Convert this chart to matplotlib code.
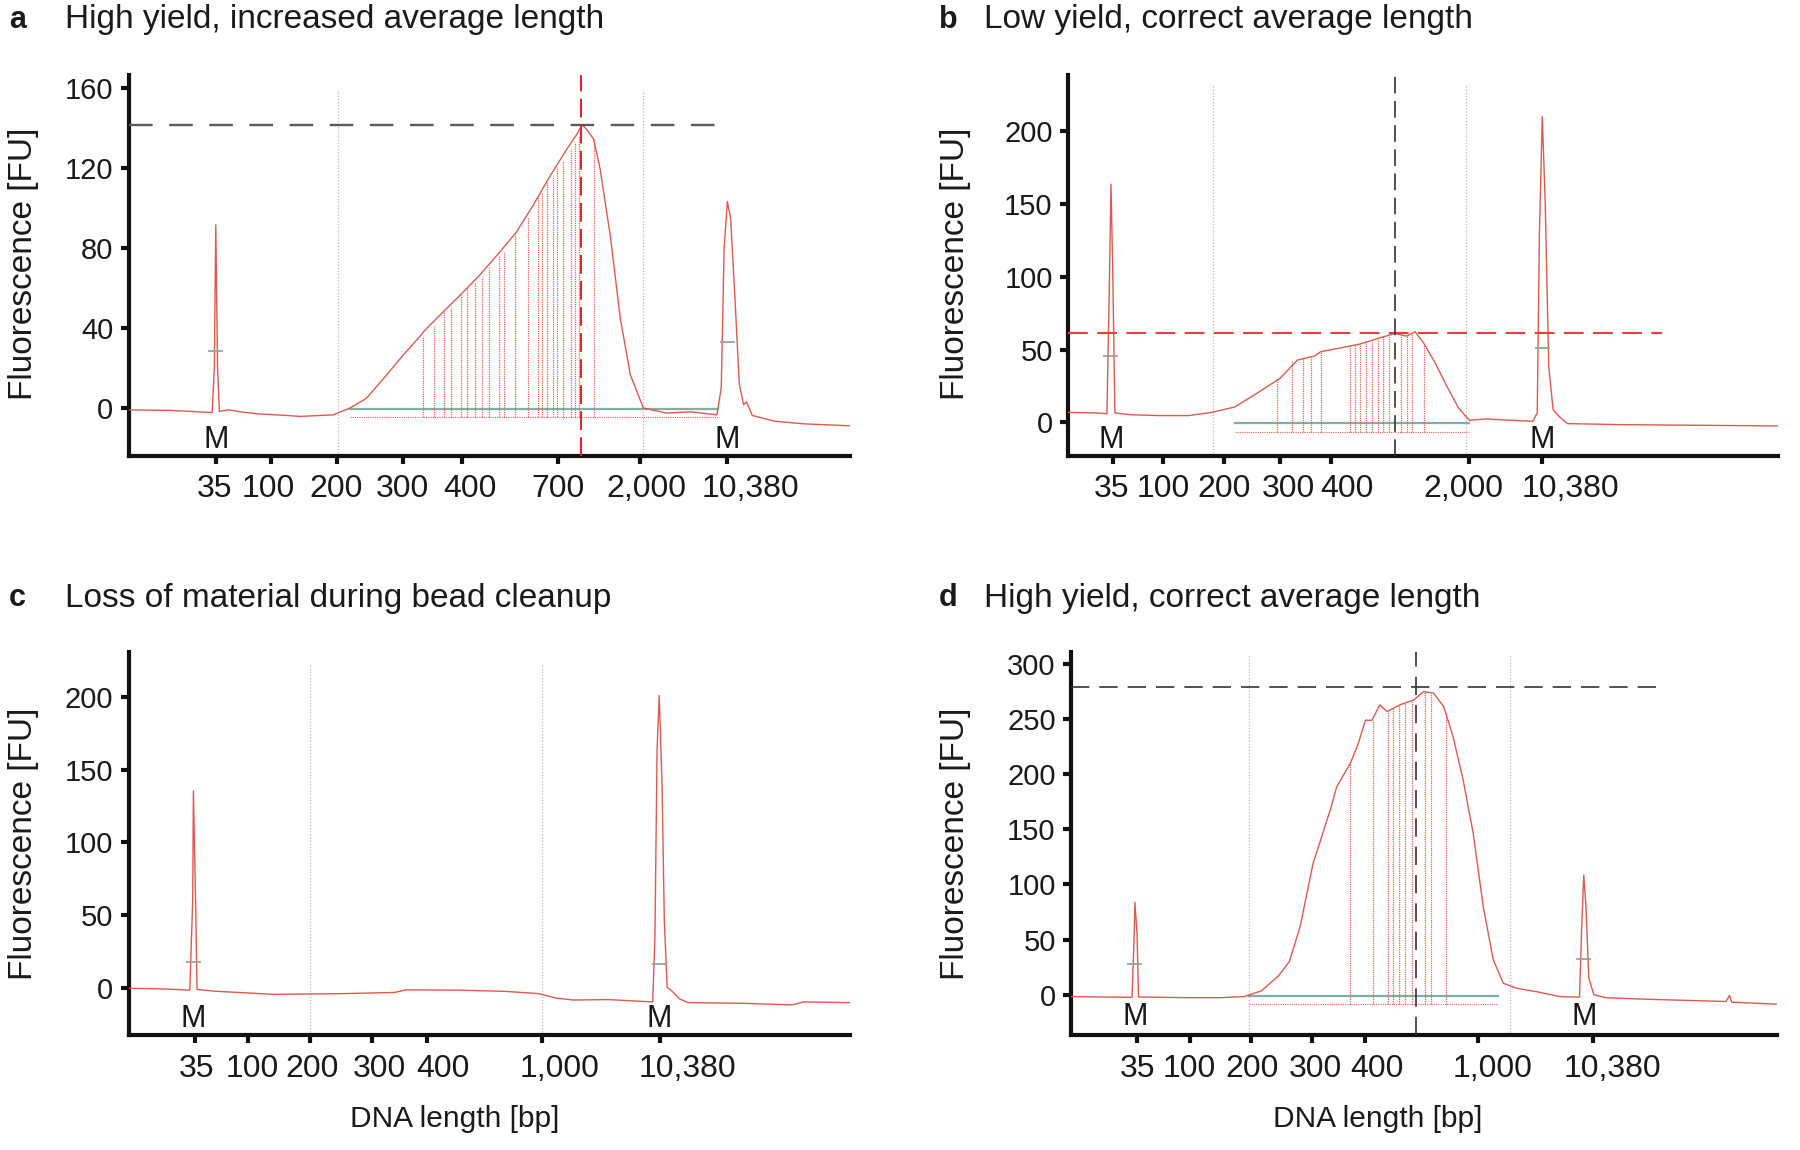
import matplotlib
matplotlib.use("Agg")
import matplotlib.pyplot as plt
import matplotlib.transforms as mtransforms

REG = 'Liberation Sans'

# ---------------- data (migration time units on x, fluorescence FU on y) -------------
# Panel a
a_title = "High yield, increased average length"
a_tick_time = [12.1, 19.7, 28.9, 38.1, 46.2, 59.5, 70.9, 83.0]
a_tick_bp = ["35", "100", "200", "300", "400", "700", "2,000", "10,380"]
a_yticks = [0, 40, 80, 120, 160]
a_ylim = (-24, 167)
a_time = [0, 6.0, 10.8, 11.6, 11.9, 12.1, 12.35, 12.6, 13.9, 15.5, 17.9, 21.9, 23.8, 28.4,
          30.7, 33.0, 35.8, 38.1, 40.4, 41.0, 43.2, 46.0, 48.7, 51.5, 53.8, 56.1, 58.5,
          60.8, 62.2, 62.9, 63.5, 64.5, 65.4, 66.8, 68.2, 69.6, 71.4, 74.6, 78.0, 81.6,
          82.2, 82.6, 83.05, 83.5, 84.1, 84.7, 85.3, 85.7, 86.5, 89.6, 93.6, 100]
a_fu = [-1.0, -1.3, -2.2, -2.3, 20, 91.7, 20, -1.8, -1.0, -2.0, -3.0, -3.8, -4.3, -3.5,
        -0.1, 4.8, 16.5, 26.5, 35.7, 38.5, 46.5, 56.5, 66.5, 78.1, 88.1, 101.4, 116.4,
        129.7, 137.2, 141.7, 139.7, 134.7, 119.7, 86.5, 44.8, 16.5, -0.1, -2.6, -2.0, -3.5,
        10, 80, 103.4, 95, 55, 12, 1.5, 3.0, -3.8, -6.7, -8.0, -9.0]
a_peak_time = [40.8, 42.3, 43.8, 44.7, 46.1, 47.0, 48.1, 49.0, 50.0, 51.4, 52.1, 53.6,
               55.4, 56.8, 57.3, 58.0, 58.8, 59.4, 60.3, 61.3, 61.9, 62.5, 64.5]
a_peak_fu = [35.7, 41.2, 47.8, 51.1, 56.5, 60.6, 62.3, 65.6, 70.6, 76.5, 78.1, 87.3,
             95.6, 105.6, 108.1, 113.1, 115.6, 120.6, 123.9, 129.7, 133.1, 136.4, 134.7]
a_ladder_time = [12.1, 83.05]
a_ladder_mark = [28.7, 32.8]

# Panel b
b_title = "Low yield, correct average length"
b_tick_time = [6.2, 13.2, 21.6, 29.4, 36.4, 55.5, 65.7]
b_tick_bp = ["35", "100", "200", "300", "400", "2,000", "10,380"]
b_yticks = [0, 50, 100, 150, 200]
b_ylim = (-23, 239)
b_time = [0, 4.0, 5.4, 5.7, 5.96, 6.2, 6.5, 8.7, 12.7, 16.7, 19.9, 23.1, 26.2, 29.4,
          31.8, 34.2, 35.0, 37.4, 40.5, 42.9, 45.3, 46.9, 48.1, 49.3, 50.9, 52.5, 54.1,
          55.6, 58.0, 61.2, 64.4, 65.0, 65.3, 65.7, 66.1, 66.6, 67.2, 68.0, 69.2, 76.3,
          88.2, 98.3]
b_fu = [6.8, 6.4, 5.9, 84, 163.6, 106.6, 6.4, 5.2, 4.6, 4.6, 6.8, 10.5, 20.0, 30.3,
        42.8, 45.6, 48.5, 50.8, 53.8, 57.6, 61.0, 59.2, 62.2, 54.2, 40.5, 24.6, 9.8,
        1.4, 2.3, 1.4, 0.7, 6.4, 129, 210, 152, 38, 8.7, 4.1, -0.9, -1.6, -2.1, -2.5]
b_peak_time = [29.0, 31.0, 32.6, 33.6, 35.0, 39.1, 39.7, 40.5, 41.3, 42.1, 42.9, 43.7,
               44.5, 46.1, 46.9, 47.7, 49.3]
b_peak_fu = [30, 42, 44, 45, 48, 53, 53, 54, 55, 56, 57, 59, 60, 60, 60, 61, 53]
b_ladder_time = [5.96, 65.7]
b_ladder_mark = [45.6, 51.3]

# Panel c
c_title = "Loss of material during bead cleanup"
c_tick_time = [9.2, 16.6, 25.2, 33.8, 41.4, 57.4, 73.7]
c_tick_bp = ["35", "100", "200", "300", "400", "1,000", "10,380"]
c_yticks = [0, 50, 100, 150, 200]
c_ylim = (-33, 231)
c_time = [0, 5.0, 8.5, 8.9, 9.0, 9.3, 9.5, 12.1, 15.3, 20.1, 29.7, 36.9, 38.5, 45.7,
          52.1, 56.9, 59.3, 61.7, 66.5, 69.6, 72.7, 73.0, 73.3, 73.6, 74.0, 74.3, 74.7,
          75.4, 76.4, 77.6, 85.6, 92.0, 93.6, 100]
c_fu = [-0.5, -1.0, -1.8, 60, 135.4, 60, -1.3, -2.6, -3.4, -4.7, -4.2, -3.4, -1.6, -1.8,
        -2.6, -4.2, -7.3, -8.6, -8.3, -9.1, -9.9, 33.9, 164, 201, 138, 47, 0, -2.6,
        -7.8, -10.4, -10.9, -12.0, -9.9, -10.4]
c_peak_time = []
c_peak_fu = []
c_ladder_time = [9.0, 73.6]
c_ladder_mark = [17.7, 16.1]

# Panel d
d_title = "High yield, correct average length"
d_tick_time = [9.2, 16.5, 25.1, 33.6, 40.9, 56.6, 72.7]
d_tick_bp = ["35", "100", "200", "300", "400", "1,000", "10,380"]
d_yticks = [0, 50, 100, 150, 200, 250, 300]
d_ylim = (-37, 311)
d_time = [0, 4.2, 8.5, 8.8, 8.9, 9.2, 9.4, 16.1, 20.9, 24.1, 26.5, 28.9, 30.4, 31.9,
          33.7, 36.1, 37.0, 38.9, 40.0, 41.0, 41.9, 43.0, 44.0, 45.8, 47.7, 49.1, 50.5,
          51.9, 53.2, 54.6, 56.0, 57.4, 58.8, 60.2, 62.1, 65.0, 68.1, 70.8, 71.1, 71.4,
          71.7, 72.1, 72.8, 74.4, 80.0, 91.2, 91.7, 92.0, 98.3]
d_fu = [-1.7, -2.1, -2.4, 54.7, 83.8, 54.7, -2.1, -2.7, -2.7, -1.7, 3.4, 17.1, 30.0,
        61.7, 119.0, 167.6, 188.7, 210.0, 228.0, 249.0, 249.0, 263.0, 256.8, 263.0,
        267.4, 275.0, 273.5, 261.3, 234.0, 194.8, 146.5, 79.9, 31.5, 10.3, 5.8, 2.5,
        -1.8, -2.2, 60, 108.6, 80, 15, 0, -2.7, -4.1, -6.2, -0.7, -6.8, -8.6]
d_peak_time = [38.9, 42.0, 44.1, 44.8, 45.7, 46.5, 47.5, 49.3, 50.1, 52.2]
d_peak_fu = [211, 249, 256.8, 260, 263, 264.5, 267.4, 275, 273.5, 256.8]
d_ladder_time = [8.9, 71.4]
d_ladder_mark = [27.4, 32.5]

# ---------------- styling ----------------
TRACE = '#dc5a50'
MARK = '#e2645c'
REGION = '#b4b4d6'
TEAL = '#7fb0a5'
INK = '#1a1a1a'

fig = plt.figure(figsize=(18, 11.5), dpi=100)

panels = [
    dict(title=a_title, t=a_time, y=a_fu, ticks=a_tick_time, labels=a_tick_bp,
         yt=a_yticks, ylim=a_ylim, xmax=100, pk_t=a_peak_time, pk_y=a_peak_fu,
         lt=a_ladder_time, lm=a_ladder_mark, rect=[0.0714, 0.6037, 0.4006, 0.3315],
         regions=(29.1, 71.3), region_top=159, base=(30.7, 81.7), mlab=-16,
         hline=(141.5, 82.5, '#5a5a5a', 1.7, (10, 7)), vline=(62.7, '#e8232b', 1.5, (9, 3.5)),
         loff=[-1, -2, -1, -1, 8, 0, 7, 23]),
    dict(title=b_title, t=b_time, y=b_fu, ticks=b_tick_time, labels=b_tick_bp,
         yt=b_yticks, ylim=b_ylim, xmax=98.3, pk_t=b_peak_time, pk_y=b_peak_fu,
         lt=b_ladder_time, lm=b_ladder_mark, rect=[0.5933, 0.6037, 0.4011 * 0.983, 0.3315],
         regions=(20.1, 55.2), region_top=232, base=(23.1, 55.6), mlab=-12,
         hline=(61.7, 82.3, '#ee3b3b', 1.5, (9.5, 4.5)), vline=(45.3, '#333333', 1.2, (10, 4.5)),
         loff=[-1, 0, 0, 8, 16, -5, 28]),
    dict(title=c_title, t=c_time, y=c_fu, ticks=c_tick_time, labels=c_tick_bp,
         yt=c_yticks, ylim=c_ylim, xmax=100, pk_t=c_peak_time, pk_y=c_peak_fu,
         lt=c_ladder_time, lm=c_ladder_mark, rect=[0.0714, 0.0996, 0.4006, 0.3335],
         regions=(25.2, 57.3), region_top=223, base=None, mlab=-22,
         hline=None, vline=None, loff=[2, 4, 2, 7, 16, 17, 27]),
    dict(title=d_title, t=d_time, y=d_fu, ticks=d_tick_time, labels=d_tick_bp,
         yt=d_yticks, ylim=d_ylim, xmax=98.3, pk_t=d_peak_time, pk_y=d_peak_fu,
         lt=d_ladder_time, lm=d_ladder_mark, rect=[0.595, 0.0996, 0.399 * 0.983, 0.3335],
         regions=(24.8, 61.1), region_top=308, base=(24.8, 59.5), mlab=-20,
         hline=(279.4, 82.4, '#333333', 1.2, (11, 6)), vline=(48.1, '#333333', 1.2, (11, 6)),
         loff=[0, 0, 1, 3, 12, 15, 19]),
]

for p in panels:
    ax = fig.add_axes(p['rect'])
    ax.set_xlim(0, p['xmax'])
    ax.set_ylim(*p['ylim'])
    for s in ('top', 'right'):
        ax.spines[s].set_visible(False)
    for s in ('left', 'bottom'):
        ax.spines[s].set_linewidth(3.0)
        ax.spines[s].set_color('#111111')
    ax.tick_params(axis='both', direction='out', width=3.0, length=6, color='#111111')
    ax.tick_params(axis='y', labelsize=21, pad=5)
    ax.tick_params(axis='x', labelsize=23, pad=7)
    ax.set_yticks(p['yt'])
    ax.set_yticklabels([str(v) for v in p['yt']], fontfamily=REG, color=INK)
    ax.set_xticks(p['ticks'])
    ax.set_xticklabels(p['labels'], fontfamily=REG, color=INK)
    for lab, off in zip(ax.get_xticklabels(), p['loff']):
        if off:
            lab.set_transform(lab.get_transform() +
                              mtransforms.ScaledTranslation(off / 100, 0, fig.dpi_scale_trans))

    y0, y1 = p['ylim']
    span = y1 - y0
    # region boundaries
    for rx in p['regions']:
        ax.plot([rx, rx], [y0, p['region_top']], color=REGION, lw=0.9, ls=(0, (1, 1.5)), zorder=1)
    bot = -0.025 * span
    # baseline / bottom of peak table
    if p['base'] is not None:
        b0, b1 = p['base']
        ax.plot([b0, b1], [-0.003 * span] * 2, color=TEAL, lw=1.6, zorder=2)
        ax.plot([b0, b1], [bot, bot], color=MARK, lw=0.8, ls=(0, (1, 1)), zorder=2)
    # peak markers
    for pt, py in zip(p['pk_t'], p['pk_y']):
        ax.plot([pt, pt], [bot, py], color=MARK, lw=0.9, ls=(0, (1, 0.8)), zorder=2)
    # trace
    ax.plot(p['t'], p['y'], color=TRACE, lw=1.0, zorder=4)
    # ladder markers
    for lt, lm in zip(p['lt'], p['lm']):
        ax.plot([lt - 0.9, lt + 0.9], [lm, lm], color='#8aa8a0', lw=1.3, zorder=5)
        ax.text(lt, p['mlab'], 'M', ha='center', va='center', fontsize=22,
                fontfamily=REG, color=INK)
    # dashed guides
    if p['hline'] is not None:
        hy, hx1, hc, hw, hd = p['hline']
        ax.plot([0, hx1], [hy, hy], color=hc, lw=hw, ls=(0, hd), zorder=6)
    if p['vline'] is not None:
        vx, vc, vw, vd = p['vline']
        ax.plot([vx, vx], [y0, y1], color=vc, lw=vw, ls=(0, vd), zorder=6)

# titles and labels
for lx, tx, y, letter, title in [(0.005, 0.0363, 0.983, 'a', a_title),
                                 (0.5217, 0.5466, 0.983, 'b', b_title),
                                 (0.005, 0.0363, 0.48, 'c', c_title),
                                 (0.5217, 0.5466, 0.48, 'd', d_title)]:
    fig.text(lx, y, letter, fontsize=22, fontweight='bold', fontfamily=REG, va='center', color=INK)
    fig.text(tx, y, title, fontsize=24, fontfamily=REG, va='center', color=INK)

for x, y in [(0.0128, 0.771), (0.531, 0.771), (0.0128, 0.266), (0.531, 0.266)]:
    fig.text(x, y, 'Fluorescence [FU]', rotation=90, fontsize=24, fontfamily=REG,
             ha='center', va='center', color=INK)
fig.text(0.2527, 0.027, 'DNA length [bp]', fontsize=21.5, fontfamily=REG,
         ha='center', va='center', color=INK)
fig.text(0.7653, 0.027, 'DNA length [bp]', fontsize=21.5, fontfamily=REG,
         ha='center', va='center', color=INK)

fig.savefig('out.png', dpi=100, facecolor='white')
